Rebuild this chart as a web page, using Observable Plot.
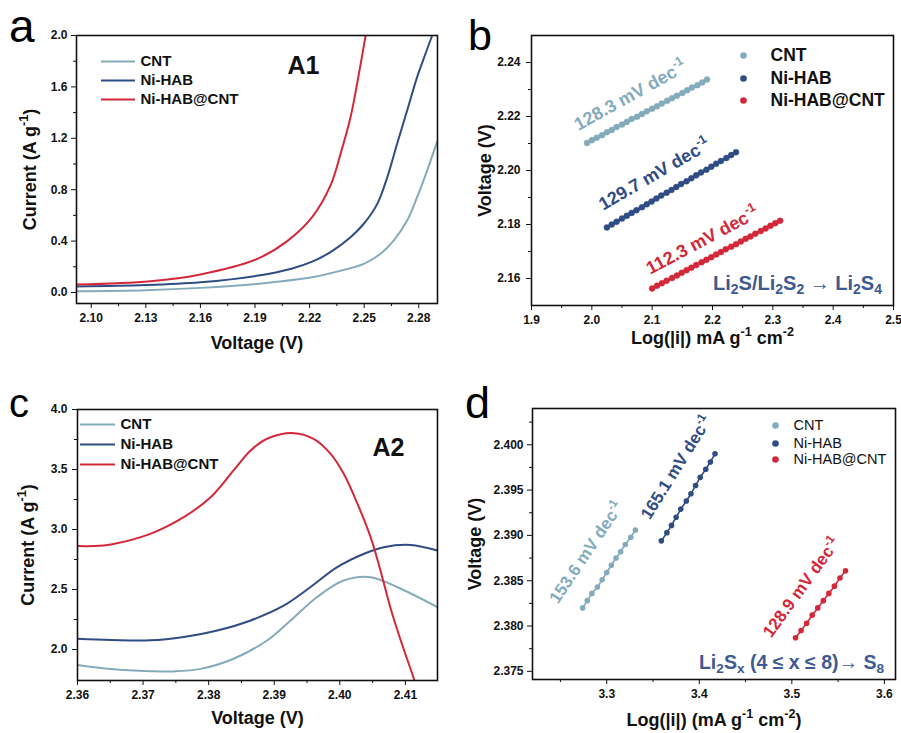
<!DOCTYPE html>
<html><head><meta charset="utf-8">
<script src="https://cdn.jsdelivr.net/npm/d3@7"></script>
<script src="https://cdn.jsdelivr.net/npm/@observablehq/plot@0.6"></script>
<style>
body{margin:0;background:#fff;}
#fig{position:relative;width:901px;height:733px;background:#fff;overflow:hidden;}
.panel{position:absolute;}
</style></head><body><div id="fig"></div>
<script>
// ---------- colours / names ----------
const seriesNames = ["CNT", "Ni-HAB", "Ni-HAB@CNT"];
const seriesColors = ["#84abbc", "#2f4c84", "#d3283a"];
const noteColor = "#3d5a92";

// ---------- panel a : LSV A1 (voltage, current) ----------
const aCNT = [[2.0919,0.010],[2.13,0.018],[2.16,0.036],[2.191,0.067],[2.2214,0.118],[2.2315,0.150],[2.2498,0.223],[2.259,0.301],[2.2663,0.405],[2.2736,0.560],[2.2791,0.742],[2.2846,0.949],[2.2897,1.157],[2.2903,1.18]];
const aNi  = [[2.0919,0.047],[2.13,0.058],[2.16,0.080],[2.191,0.130],[2.21,0.185],[2.2214,0.240],[2.2315,0.314],[2.2425,0.430],[2.2498,0.535],[2.2572,0.690],[2.2627,0.897],[2.2681,1.157],[2.2736,1.416],[2.2791,1.676],[2.2837,1.858],[2.2874,2.00],[2.2903,2.10]];
const aRed = [[2.0919,0.062],[2.1326,0.088],[2.16,0.140],[2.191,0.260],[2.2077,0.400],[2.2214,0.586],[2.2315,0.833],[2.237,1.079],[2.2425,1.364],[2.2471,1.702],[2.2508,2.00],[2.253,2.20]];

// ---------- panel b : Tafel A1 (log|i|, voltage) ----------
const bCNT_x = [1.992,2.000,2.008,2.017,2.025,2.033,2.041,2.050,2.058,2.066,2.075,2.083,2.091,2.100,2.108,2.116,2.125,2.133,2.141,2.150,2.158,2.166,2.175,2.183,2.191];
const bCNT_y = [2.2102,2.2112,2.2121,2.2131,2.2142,2.2150,2.2161,2.2170,2.2180,2.2191,2.2199,2.2209,2.2219,2.2229,2.2238,2.2248,2.2258,2.2268,2.2277,2.2287,2.2297,2.2307,2.2316,2.2326,2.2337];
const bNi_x = [2.025,2.033,2.041,2.050,2.058,2.066,2.074,2.083,2.091,2.099,2.107,2.115,2.124,2.132,2.140,2.148,2.157,2.165,2.173,2.181,2.190,2.198,2.206,2.214,2.223,2.231,2.239];
const bNi_y = [2.1789,2.1800,2.1810,2.1822,2.1832,2.1843,2.1853,2.1864,2.1875,2.1885,2.1896,2.1907,2.1918,2.1928,2.1939,2.1950,2.1960,2.1971,2.1982,2.1993,2.2003,2.2014,2.2025,2.2035,2.2046,2.2057,2.2068];
const bRed_x = [2.100,2.108,2.116,2.124,2.133,2.141,2.149,2.157,2.165,2.173,2.182,2.190,2.198,2.206,2.214,2.222,2.231,2.239,2.247,2.255,2.263,2.271,2.280,2.288,2.296,2.304,2.312];
const bRed_y = [2.1563,2.1573,2.1582,2.1592,2.1602,2.1611,2.1621,2.1631,2.1640,2.1650,2.1660,2.1669,2.1679,2.1689,2.1698,2.1708,2.1718,2.1727,2.1737,2.1747,2.1756,2.1766,2.1776,2.1785,2.1795,2.1805,2.1814];
const bSlopes = ["128.3 mV dec^{-1}", "129.7 mV dec^{-1}", "112.3 mV dec^{-1}"];
const bNote = "Li_{2}S/Li_{2}S_{2} → Li_{2}S_{4}";

// ---------- panel c : LSV A2 (voltage, current) ----------
const cCNT = [[2.36,1.872],[2.3651,1.838],[2.3711,1.820],[2.3747,1.818],[2.3788,1.839],[2.3838,1.923],[2.3889,2.075],[2.3925,2.242],[2.3965,2.436],[2.4006,2.575],[2.4047,2.603],[2.4088,2.519],[2.4149,2.353]];
const cNi  = [[2.36,2.089],[2.3651,2.080],[2.3711,2.077],[2.3762,2.105],[2.3813,2.158],[2.3864,2.242],[2.3915,2.367],[2.3955,2.519],[2.3996,2.686],[2.4037,2.798],[2.4067,2.853],[2.4108,2.872],[2.4149,2.825]];
const cRed = [[2.36,2.862],[2.3625,2.862],[2.3651,2.876],[2.3711,2.964],[2.3762,3.103],[2.3803,3.269],[2.3838,3.492],[2.3864,3.658],[2.3889,3.756],[2.3930,3.803],[2.3960,3.756],[2.3986,3.631],[2.4006,3.464],[2.4027,3.214],[2.4047,2.936],[2.4062,2.659],[2.4077,2.353],[2.4093,2.075],[2.4113,1.756],[2.4122,1.60]];

// ---------- panel d : Tafel A2 (log|i|, voltage) ----------
const dCNT_x = [3.274,3.279,3.284,3.290,3.295,3.300,3.305,3.310,3.315,3.320,3.326,3.331];
const dCNT_y = [2.3820,2.3828,2.3836,2.3843,2.3851,2.3859,2.3867,2.3875,2.3882,2.3890,2.3898,2.3906];
const dNi_x = [3.359,3.365,3.370,3.375,3.380,3.386,3.391,3.396,3.401,3.407,3.412,3.417];
const dNi_y = [2.3894,2.3903,2.3911,2.3920,2.3929,2.3938,2.3946,2.3955,2.3964,2.3973,2.3981,2.3990];
const dRed_x = [3.504,3.510,3.516,3.522,3.528,3.534,3.540,3.546,3.552,3.558];
const dRed_y = [2.3787,2.3795,2.3803,2.3812,2.3820,2.3828,2.3836,2.3844,2.3853,2.3861];
const dSlopes = ["153.6 mV dec^{-1}", "165.1 mV dec^{-1}", "128.9 mV dec^{-1}"];
const dNote = "Li_{2}S_{x} (4 ≤ x ≤ 8)→ S_{8}";

// ---------- tick values ----------
const aXMajor = [2.10,2.13,2.16,2.19,2.22,2.25,2.28];
const aXMinor = [2.115,2.145,2.175,2.205,2.235,2.265];
const aYMajor = [0.0,0.4,0.8,1.2,1.6,2.0];
const aYMinor = [0.2,0.6,1.0,1.4,1.8];
const bXMajor = [1.9,2.0,2.1,2.2,2.3,2.4,2.5];
const bXMinor = [1.95,2.05,2.15,2.25,2.35,2.45];
const bYMajor = [2.16,2.18,2.20,2.22,2.24];
const bYMinor = [2.17,2.19,2.21,2.23];
const cXMajor = [2.36,2.37,2.38,2.39,2.40,2.41];
const cXMinor = [2.365,2.375,2.385,2.395,2.405];
const cYMajor = [2.0,2.5,3.0,3.5,4.0];
const cYMinor = [2.25,2.75,3.25,3.75];
const dXMajor = [3.3,3.4,3.5,3.6];
const dXMinor = [3.25,3.35,3.45,3.55];
const dYMajor = [2.375,2.380,2.385,2.390,2.395,2.400];
const dYMinor = [2.3775,2.3825,2.3875,2.3925,2.3975,2.4025];

const zip = (xs, ys) => xs.map((x, i) => [x, ys[i]]);
const FONT = "'Liberation Sans', Arial, Helvetica, sans-serif";

function px2x(c, px){ return c.xd[0] + (px - c.ml) / (c.W - c.ml - c.mr) * (c.xd[1] - c.xd[0]); }
function px2y(c, py){ return c.yd[1] - (py - c.mt) / (c.H - c.mt - c.mb) * (c.yd[1] - c.yd[0]); }

function build(c, marks){
  return Plot.plot({
    width: c.W, height: c.H,
    marginLeft: c.ml, marginTop: c.mt, marginRight: c.mr, marginBottom: c.mb,
    x: {domain: c.xd}, y: {domain: c.yd},
    style: {fontFamily: FONT, fontSize: "12px", fontWeight: "bold", color: "#111", background: "transparent", overflow: "visible"},
    marks: [
      ...marks,
      Plot.frame({stroke: "#111", strokeWidth: 1.6}),
      Plot.axisX({ticks: c.xMinor, tickSize: 3, tickFormat: () => "", label: null}),
      Plot.axisX({ticks: c.xMajor, tickSize: 5, tickPadding: 5, tickFormat: c.xFmt, label: null, fontWeight: "bold"}),
      Plot.axisY({ticks: c.yMinor, tickSize: 3, tickFormat: () => "", label: null}),
      Plot.axisY({ticks: c.yMajor, tickSize: 5, tickPadding: c.yPad, tickFormat: c.yFmt, label: null, fontWeight: "bold"}),
      Plot.text([c.xTitle], {text: d => d, frameAnchor: "bottom", lineAnchor: "middle", textAnchor: "middle", dy: c.xTitleDy, fontSize: 18, fontWeight: "bold"}),
      Plot.text([c.yTitle], {text: d => d, frameAnchor: "left", lineAnchor: "middle", textAnchor: "middle", dx: c.yTitleDx, rotate: -90, fontSize: 18, fontWeight: "bold"})
    ]
  });
}

function rich(root){
  root.querySelectorAll("text").forEach(el => {
    const s = el.textContent;
    if (!/[_^]\{/.test(s)) return;
    while (el.firstChild) el.removeChild(el.firstChild);
    const re = /([_^])\{([^}]*)\}/g; let last = 0, m;
    const add = (t, kind) => {
      const ts = document.createElementNS("http://www.w3.org/2000/svg", "tspan");
      ts.textContent = t;
      if (kind) { ts.setAttribute("font-size", "70%"); ts.setAttribute("baseline-shift", kind === "_" ? "-0.28em" : "0.6em"); }
      el.appendChild(ts);
    };
    while ((m = re.exec(s))) { if (m.index > last) add(s.slice(last, m.index)); add(m[2], m[1]); last = re.lastIndex; }
    if (last < s.length) add(s.slice(last));
  });
}

const fig = document.getElementById("fig");
function place(svg, left, top){
  const d = document.createElement("div");
  d.className = "panel"; d.style.left = left + "px"; d.style.top = top + "px";
  d.appendChild(svg); rich(svg); fig.appendChild(d);
}

const fmt1 = d3.format(".1f"), fmt2 = d3.format(".2f"), fmt3 = d3.format(".3f");

// ---------- panel a ----------
const cA = {W:450,H:365,ml:76,mt:35,mr:13,mb:62,xd:[2.0919,2.2903],yd:[-0.0856,2.0],
  xMajor:aXMajor,xMinor:aXMinor,yMajor:aYMajor,yMinor:aYMinor,xFmt:fmt2,yFmt:fmt1,yPad:4,
  xTitle:"Voltage (V)",yTitle:"Current (A g^{-1})",xTitleDy:40,yTitleDx:-46};
const aSeries = [aCNT, aNi, aRed];
const aMarks = [];
aSeries.forEach((s, i) => {
  aMarks.push(Plot.line(s, {x: d => d[0], y: d => d[1], stroke: seriesColors[i], strokeWidth: 2, curve: "catmull-rom", clip: true}));
  const ly = px2y(cA, 61 + 19 * i);
  aMarks.push(Plot.ruleY([ly], {x1: px2x(cA, 101), x2: px2x(cA, 135), stroke: seriesColors[i], strokeWidth: 2}));
  aMarks.push(Plot.text([seriesNames[i]], {text: d => d, x: px2x(cA, 140), y: ly, textAnchor: "start", fontSize: 15, fontWeight: "bold", fill: "#111"}));
});
aMarks.push(Plot.text(["A1"], {text: d => d, x: px2x(cA, 303), y: px2y(cA, 65), fontSize: 25, fontWeight: "bold", fill: "#111"}));
place(build(cA, aMarks), 0, 0);

// ---------- panel b ----------
const cB = {W:451,H:365,ml:81,mt:35,mr:8,mb:60,xd:[1.9,2.5],yd:[2.15,2.25],
  xMajor:bXMajor,xMinor:bXMinor,yMajor:bYMajor,yMinor:bYMinor,xFmt:fmt1,yFmt:fmt2,yPad:6,
  xTitle:"Log(|i|) mA g^{-1} cm^{-2}",yTitle:"Voltage (V)",xTitleDy:33,yTitleDx:-46};
const bSeries = [zip(bCNT_x, bCNT_y), zip(bNi_x, bNi_y), zip(bRed_x, bRed_y)];
const bLabelPos = [[180, 95, -29], [204, 174, -30], [252, 240, -28]];
const bMarks = [];
bSeries.forEach((s, i) => {
  bMarks.push(Plot.line(s, {x: d => d[0], y: d => d[1], stroke: seriesColors[i], strokeWidth: 3, clip: true}));
  bMarks.push(Plot.dot(s, {x: d => d[0], y: d => d[1], r: 3, fill: seriesColors[i], stroke: seriesColors[i], strokeWidth: 0.4, clip: true}));
  const [lx, ly, rot] = bLabelPos[i];
  bMarks.push(Plot.text([bSlopes[i]], {text: d => d, x: px2x(cB, lx), y: px2y(cB, ly), rotate: rot, fontSize: 18, fontWeight: "bold", fill: seriesColors[i]}));
  const gy = px2y(cB, [55, 78, 100][i]);
  bMarks.push(Plot.dot([0], {x: px2x(cB, 293), y: gy, r: 3.3, fill: seriesColors[i]}));
  bMarks.push(Plot.text([seriesNames[i]], {text: d => d, x: px2x(cB, 320), y: gy, textAnchor: "start", fontSize: 17.5, fontWeight: "bold", fill: "#111"}));
});
bMarks.push(Plot.text([bNote], {text: d => d, x: px2x(cB, 347), y: px2y(cB, 283), fontSize: 20, fontWeight: "bold", fill: noteColor}));
place(build(cB, bMarks), 450, 0);

// ---------- panel c ----------
const cC = {W:450,H:373,ml:77,mt:49,mr:13,mb:53,xd:[2.36,2.4149],yd:[1.742,4.0],
  xMajor:cXMajor,xMinor:cXMinor,yMajor:cYMajor,yMinor:cYMinor,xFmt:fmt2,yFmt:fmt1,yPad:5,
  xTitle:"Voltage (V)",yTitle:"Current (A g^{-1})",xTitleDy:38,yTitleDx:-49};
const cSeries = [cCNT, cNi, cRed];
const cMarks = [];
cSeries.forEach((s, i) => {
  cMarks.push(Plot.line(s, {x: d => d[0], y: d => d[1], stroke: seriesColors[i], strokeWidth: 2, curve: "catmull-rom", clip: true}));
  const ly = px2y(cC, 64 + 20 * i);
  cMarks.push(Plot.ruleY([ly], {x1: px2x(cC, 80), x2: px2x(cC, 115), stroke: seriesColors[i], strokeWidth: 2}));
  cMarks.push(Plot.text([seriesNames[i]], {text: d => d, x: px2x(cC, 120), y: ly, textAnchor: "start", fontSize: 15, fontWeight: "bold", fill: "#111"}));
});
cMarks.push(Plot.text(["A2"], {text: d => d, x: px2x(cC, 388), y: px2y(cC, 87), fontSize: 25, fontWeight: "bold", fill: "#111"}));
place(build(cC, cMarks), 0, 360);

// ---------- panel d ----------
const cD = {W:451,H:373,ml:82,mt:48,mr:6,mb:54,xd:[3.2198,3.612],yd:[2.3741,2.4040],
  xMajor:dXMajor,xMinor:dXMinor,yMajor:dYMajor,yMinor:dYMinor,xFmt:fmt1,yFmt:fmt3,yPad:4,
  xTitle:"Log(|i|) (mA g^{-1} cm^{-2})",yTitle:"Voltage (V)",xTitleDy:41,yTitleDx:-57};
const dSeries = [zip(dCNT_x, dCNT_y), zip(dNi_x, dNi_y), zip(dRed_x, dRed_y)];
const dLabelPos = [[136, 192, -56], [226, 107, -58], [351, 227, -54]];
const dMarks = [];
dSeries.forEach((s, i) => {
  dMarks.push(Plot.line(s, {x: d => d[0], y: d => d[1], stroke: seriesColors[i], strokeWidth: 1.6, clip: true}));
  dMarks.push(Plot.dot(s, {x: d => d[0], y: d => d[1], r: 2.8, fill: seriesColors[i], clip: true}));
  const [lx, ly, rot] = dLabelPos[i];
  dMarks.push(Plot.text([dSlopes[i]], {text: d => d, x: px2x(cD, lx), y: px2y(cD, ly), rotate: rot, fontSize: 17, fontWeight: "bold", fill: seriesColors[i]}));
  const gy = px2y(cD, [65, 83, 99][i]);
  dMarks.push(Plot.dot([0], {x: px2x(cD, 325), y: gy, r: 3.3, fill: seriesColors[i]}));
  dMarks.push(Plot.text([seriesNames[i]], {text: d => d, x: px2x(cD, 343), y: gy, textAnchor: "start", fontSize: 14.5, fontWeight: "normal", fill: "#111"}));
});
dMarks.push(Plot.text([dNote], {text: d => d, x: px2x(cD, 341), y: px2y(cD, 302), fontSize: 19.5, fontWeight: "bold", fill: noteColor}));
place(build(cD, dMarks), 450, 360);

// ---------- panel letters ----------
const over = d3.create("svg").attr("width", 901).attr("height", 733)
  .style("position", "absolute").style("left", "0px").style("top", "0px").style("pointer-events", "none");
[["a", 9, 42, 46], ["b", 468, 50, 43], ["c", 9, 417, 40], ["d", 465, 418, 45]].forEach(([t, x, y, s]) => {
  over.append("text").attr("x", x).attr("y", y).attr("font-family", FONT).attr("font-size", s).attr("fill", "#000").text(t);
});
fig.appendChild(over.node());
</script></body></html>
